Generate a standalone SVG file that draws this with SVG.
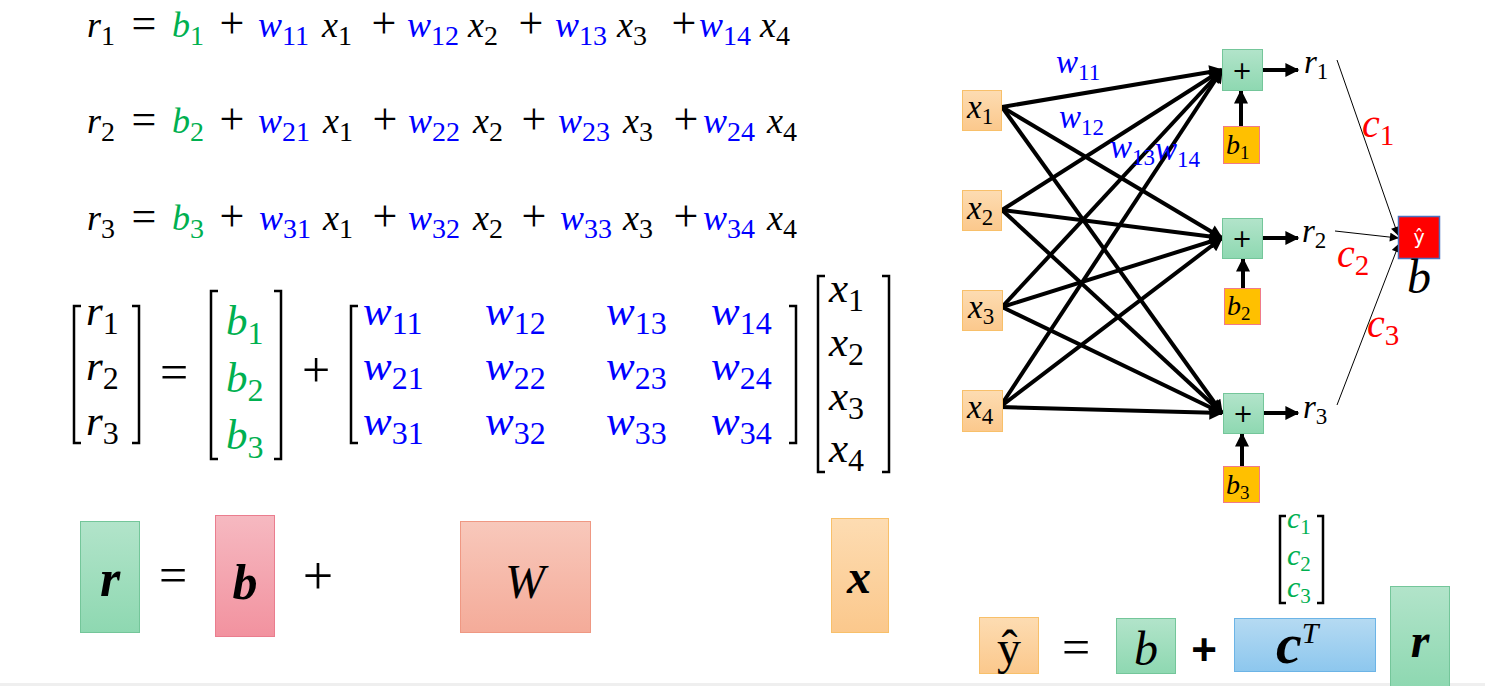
<svg xmlns="http://www.w3.org/2000/svg" width="1485" height="686" viewBox="0 0 1485 686">
<style>
text{font-family:"Liberation Serif","Times New Roman",serif}
.m{font-style:italic;font-size:36px}
.mm{font-style:italic;font-size:43px}
.o{font-size:44px;text-anchor:middle}
.oo{font-size:50px;text-anchor:middle}
.sb{font-style:normal;font-size:28px}
.sb2{font-style:normal;font-size:32px}
.sb3{font-style:normal;font-size:23px}
.k{fill:#000}
.g{fill:#00b050}
.u{fill:#0000ff}
.rd{fill:#ff0000}
.nl{font-style:italic;font-size:33px}
.wl{font-style:italic;font-size:33px;fill:#0000ff}
.edge{stroke:#000;stroke-width:4;fill:none}
.thin{stroke:#000;stroke-width:1;fill:none}
.brk{stroke:#000;stroke-width:2.5;fill:none}
.plus{font-family:"DejaVu Sans",sans-serif;font-size:24px;text-anchor:middle}
</style>
<defs>
<linearGradient id="gG" x1="0" y1="0" x2="0" y2="1"><stop offset="0" stop-color="#b2e4ca"/><stop offset="1" stop-color="#8ed8b1"/></linearGradient>
<linearGradient id="gP" x1="0" y1="0" x2="0" y2="1"><stop offset="0" stop-color="#f6b9c1"/><stop offset="1" stop-color="#f2929f"/></linearGradient>
<linearGradient id="gS" x1="0" y1="0" x2="0" y2="1"><stop offset="0" stop-color="#f8c8bb"/><stop offset="1" stop-color="#f4ab99"/></linearGradient>
<linearGradient id="gO" x1="0" y1="0" x2="0" y2="1"><stop offset="0" stop-color="#fddcb2"/><stop offset="1" stop-color="#fbc88c"/></linearGradient>
<linearGradient id="gB" x1="0" y1="0" x2="0" y2="1"><stop offset="0" stop-color="#b5daf2"/><stop offset="1" stop-color="#8dc7ee"/></linearGradient>
<marker id="ah" viewBox="0 0 10 10" refX="9" refY="5" markerWidth="16" markerHeight="14" markerUnits="userSpaceOnUse" orient="auto"><path d="M0,0 L10,5 L0,10 z" fill="#000"/></marker>
<marker id="ahs" viewBox="0 0 10 10" refX="9" refY="5" markerWidth="10" markerHeight="9" markerUnits="userSpaceOnUse" orient="auto"><path d="M0,0 L10,5 L0,10 z" fill="#000"/></marker>
</defs>
<rect x="0" y="0" width="1485" height="686" fill="#fff"/>
<rect x="0" y="683" width="1485" height="3" fill="#efefef"/>

<!-- scalar equations -->
<g id="eq1">
<text class="m k" x="87" y="37">r<tspan class="sb" dy="8">1</tspan></text>
<text class="o k" x="144" y="38">=</text>
<text class="m g" x="172" y="37">b<tspan class="sb" dy="8">1</tspan></text>
<text class="o k" x="232" y="38">+</text>
<text class="m u" x="258" y="37">w<tspan class="sb" dy="8">11</tspan></text>
<text class="m k" x="322" y="37">x<tspan class="sb" dy="8">1</tspan></text>
<text class="o k" x="384" y="38">+</text>
<text class="m u" x="407" y="37">w<tspan class="sb" dy="8">12</tspan></text>
<text class="m k" x="468" y="37">x<tspan class="sb" dy="8">2</tspan></text>
<text class="o k" x="531" y="38">+</text>
<text class="m u" x="555" y="37">w<tspan class="sb" dy="8">13</tspan></text>
<text class="m k" x="617" y="37">x<tspan class="sb" dy="8">3</tspan></text>
<text class="o k" x="684" y="38">+</text>
<text class="m u" x="699" y="37">w<tspan class="sb" dy="8">14</tspan></text>
<text class="m k" x="760" y="37">x<tspan class="sb" dy="8">4</tspan></text>
</g>
<g id="eq2">
<text class="m k" x="87" y="133">r<tspan class="sb" dy="8">2</tspan></text>
<text class="o k" x="144" y="134">=</text>
<text class="m g" x="172" y="133">b<tspan class="sb" dy="8">2</tspan></text>
<text class="o k" x="232" y="134">+</text>
<text class="m u" x="258" y="133">w<tspan class="sb" dy="8">21</tspan></text>
<text class="m k" x="323" y="133">x<tspan class="sb" dy="8">1</tspan></text>
<text class="o k" x="385" y="134">+</text>
<text class="m u" x="408" y="133">w<tspan class="sb" dy="8">22</tspan></text>
<text class="m k" x="473" y="133">x<tspan class="sb" dy="8">2</tspan></text>
<text class="o k" x="534" y="134">+</text>
<text class="m u" x="558" y="133">w<tspan class="sb" dy="8">23</tspan></text>
<text class="m k" x="623" y="133">x<tspan class="sb" dy="8">3</tspan></text>
<text class="o k" x="686" y="134">+</text>
<text class="m u" x="703" y="133">w<tspan class="sb" dy="8">24</tspan></text>
<text class="m k" x="767" y="133">x<tspan class="sb" dy="8">4</tspan></text>
</g>
<g id="eq3">
<text class="m k" x="87" y="230">r<tspan class="sb" dy="8">3</tspan></text>
<text class="o k" x="144" y="231">=</text>
<text class="m g" x="172" y="230">b<tspan class="sb" dy="8">3</tspan></text>
<text class="o k" x="232" y="231">+</text>
<text class="m u" x="259" y="230">w<tspan class="sb" dy="8">31</tspan></text>
<text class="m k" x="323" y="230">x<tspan class="sb" dy="8">1</tspan></text>
<text class="o k" x="385" y="231">+</text>
<text class="m u" x="408" y="230">w<tspan class="sb" dy="8">32</tspan></text>
<text class="m k" x="473" y="230">x<tspan class="sb" dy="8">2</tspan></text>
<text class="o k" x="534" y="231">+</text>
<text class="m u" x="560" y="230">w<tspan class="sb" dy="8">33</tspan></text>
<text class="m k" x="623" y="230">x<tspan class="sb" dy="8">3</tspan></text>
<text class="o k" x="686" y="231">+</text>
<text class="m u" x="703" y="230">w<tspan class="sb" dy="8">34</tspan></text>
<text class="m k" x="767" y="230">x<tspan class="sb" dy="8">4</tspan></text>
</g>

<!-- matrix equation -->
<g id="matrix">
<path class="brk" d="M81,306 H74 V443 H81 M132,306 H139 V443 H132"/>
<text class="mm k" x="86" y="325">r<tspan class="sb2" dy="9">1</tspan></text>
<text class="mm k" x="86" y="380">r<tspan class="sb2" dy="9">2</tspan></text>
<text class="mm k" x="86" y="435">r<tspan class="sb2" dy="9">3</tspan></text>
<text class="oo k" x="174" y="389">=</text>
<path class="brk" d="M218,291 H211 V459 H218 M274,291 H281 V459 H274"/>
<text class="mm g" x="226" y="335">b<tspan class="sb2" dy="9">1</tspan></text>
<text class="mm g" x="226" y="392">b<tspan class="sb2" dy="9">2</tspan></text>
<text class="mm g" x="226" y="449">b<tspan class="sb2" dy="9">3</tspan></text>
<text class="oo k" x="316" y="387">+</text>
<path class="brk" d="M358,306 H351 V443 H358 M789,306 H796 V443 H789"/>
<text class="mm u" x="363" y="325">w<tspan class="sb2" dy="9">11</tspan></text>
<text class="mm u" x="485" y="325">w<tspan class="sb2" dy="9">12</tspan></text>
<text class="mm u" x="606" y="325">w<tspan class="sb2" dy="9">13</tspan></text>
<text class="mm u" x="711" y="325">w<tspan class="sb2" dy="9">14</tspan></text>
<text class="mm u" x="363" y="380">w<tspan class="sb2" dy="9">21</tspan></text>
<text class="mm u" x="485" y="380">w<tspan class="sb2" dy="9">22</tspan></text>
<text class="mm u" x="606" y="380">w<tspan class="sb2" dy="9">23</tspan></text>
<text class="mm u" x="711" y="380">w<tspan class="sb2" dy="9">24</tspan></text>
<text class="mm u" x="363" y="435">w<tspan class="sb2" dy="9">31</tspan></text>
<text class="mm u" x="485" y="435">w<tspan class="sb2" dy="9">32</tspan></text>
<text class="mm u" x="606" y="435">w<tspan class="sb2" dy="9">33</tspan></text>
<text class="mm u" x="711" y="435">w<tspan class="sb2" dy="9">34</tspan></text>
<path class="brk" d="M825,276 H818 V472 H825 M882,276 H889 V472 H882"/>
<text class="mm k" x="829" y="302">x<tspan class="sb2" dy="9">1</tspan></text>
<text class="mm k" x="829" y="356">x<tspan class="sb2" dy="9">2</tspan></text>
<text class="mm k" x="829" y="410">x<tspan class="sb2" dy="9">3</tspan></text>
<text class="mm k" x="829" y="462">x<tspan class="sb2" dy="9">4</tspan></text>
</g>

<!-- vector boxes -->
<g id="box-r"><rect x="80.5" y="521.5" width="59" height="111" fill="url(#gG)" stroke="#74c69a"/><text x="110" y="596" text-anchor="middle" style="font-style:italic;font-weight:bold;font-size:52px">r</text></g>
<text class="oo k" x="173" y="592">=</text>
<g id="box-b"><rect x="215.5" y="515.5" width="59" height="121" fill="url(#gP)" stroke="#ea7d8e"/><text x="245" y="599" text-anchor="middle" style="font-style:italic;font-weight:bold;font-size:50px">b</text></g>
<text class="k" x="318" y="594" text-anchor="middle" style="font-size:54px">+</text>
<g id="box-W"><rect x="460.5" y="521.5" width="130" height="111" fill="url(#gS)" stroke="#ef9883"/><text x="525" y="598" text-anchor="middle" style="font-style:italic;font-size:48px">W</text></g>
<g id="box-x"><rect x="831.5" y="518.5" width="57" height="114" fill="url(#gO)" stroke="#f8c06a"/><text x="859" y="593" text-anchor="middle" style="font-style:italic;font-weight:bold;font-size:48px">x</text></g>

<!-- network connectors -->
<g id="connectors">
<line class="edge" x1="1002" y1="107" x2="1222" y2="70" marker-end="url(#ah)"/>
<line class="edge" x1="1002" y1="107" x2="1222" y2="238" marker-end="url(#ah)"/>
<line class="edge" x1="1002" y1="107" x2="1222" y2="413" marker-end="url(#ah)"/>
<line class="edge" x1="1002" y1="210" x2="1222" y2="70" marker-end="url(#ah)"/>
<line class="edge" x1="1002" y1="210" x2="1222" y2="238" marker-end="url(#ah)"/>
<line class="edge" x1="1002" y1="210" x2="1222" y2="413" marker-end="url(#ah)"/>
<line class="edge" x1="1002" y1="307" x2="1222" y2="70" marker-end="url(#ah)"/>
<line class="edge" x1="1002" y1="307" x2="1222" y2="238" marker-end="url(#ah)"/>
<line class="edge" x1="1002" y1="307" x2="1222" y2="413" marker-end="url(#ah)"/>
<line class="edge" x1="1000" y1="407" x2="1222" y2="70" marker-end="url(#ah)"/>
<line class="edge" x1="1000" y1="407" x2="1222" y2="238" marker-end="url(#ah)"/>
<line class="edge" x1="1000" y1="407" x2="1222" y2="413" marker-end="url(#ah)"/>
<line class="edge" x1="1263" y1="70" x2="1298" y2="70" marker-end="url(#ah)"/>
<line class="edge" x1="1263" y1="238" x2="1298" y2="238" marker-end="url(#ah)"/>
<line class="edge" x1="1264" y1="413" x2="1298" y2="413" marker-end="url(#ah)"/>
<line class="edge" x1="1241" y1="126" x2="1241" y2="91" marker-end="url(#ah)"/>
<line class="edge" x1="1243" y1="288" x2="1243" y2="259" marker-end="url(#ah)"/>
<line class="edge" x1="1242" y1="466" x2="1242" y2="434" marker-end="url(#ah)"/>
<line class="thin" x1="1337" y1="60" x2="1398" y2="235" marker-end="url(#ahs)"/>
<line class="thin" x1="1335" y1="231" x2="1398" y2="238" marker-end="url(#ahs)"/>
<line class="thin" x1="1337" y1="405" x2="1399" y2="244" marker-end="url(#ahs)"/>
</g>

<!-- weight labels -->
<text class="wl" x="1056" y="73">w<tspan class="sb3" dy="7">11</tspan></text>
<text class="wl" x="1059" y="128">w<tspan class="sb3" dy="7">12</tspan></text>
<text class="wl" x="1110" y="158">w<tspan class="sb3" dy="7">13</tspan></text>
<text class="wl" x="1155" y="160">w<tspan class="sb3" dy="7">14</tspan></text>

<!-- input nodes -->
<g id="x1"><rect x="962.5" y="90.5" width="39" height="40" fill="url(#gO)" stroke="#f8c06a"/><text class="nl" x="967" y="118">x<tspan class="sb3" dy="6">1</tspan></text></g>
<g id="x2"><rect x="962.5" y="190.5" width="39" height="40" fill="url(#gO)" stroke="#f8c06a"/><text class="nl" x="967" y="219">x<tspan class="sb3" dy="6">2</tspan></text></g>
<g id="x3"><rect x="962.5" y="290.5" width="40" height="40" fill="url(#gO)" stroke="#f8c06a"/><text class="nl" x="968" y="318">x<tspan class="sb3" dy="6">3</tspan></text></g>
<g id="x4"><rect x="962.5" y="390.5" width="40" height="41" fill="url(#gO)" stroke="#f8c06a"/><text class="nl" x="967" y="418">x<tspan class="sb3" dy="6">4</tspan></text></g>

<!-- sum nodes -->
<g id="sum1"><rect x="1222.5" y="49.5" width="40" height="41" fill="url(#gG)" stroke="#74c69a"/><text class="plus" x="1242" y="79">+</text></g>
<g id="sum2"><rect x="1222.5" y="218.5" width="40" height="40" fill="url(#gG)" stroke="#74c69a"/><text class="plus" x="1242" y="247">+</text></g>
<g id="sum3"><rect x="1223.5" y="393.5" width="40" height="40" fill="url(#gG)" stroke="#74c69a"/><text class="plus" x="1243" y="422">+</text></g>

<!-- bias nodes -->
<g id="b1"><rect x="1223.5" y="126.5" width="36" height="37" fill="#ffc000" stroke="#f07a8a"/><text x="1226" y="154" style="font-style:italic;font-size:28px">b<tspan style="font-style:normal;font-size:19px" dy="5">1</tspan></text></g>
<g id="b2"><rect x="1224.5" y="288.5" width="36" height="36" fill="#ffc000" stroke="#f07a8a"/><text x="1227" y="315" style="font-style:italic;font-size:28px">b<tspan style="font-style:normal;font-size:19px" dy="5">2</tspan></text></g>
<g id="b3"><rect x="1223.5" y="466.5" width="36" height="36" fill="#ffc000" stroke="#f07a8a"/><text x="1226" y="494" style="font-style:italic;font-size:28px">b<tspan style="font-style:normal;font-size:19px" dy="5">3</tspan></text></g>

<!-- r labels -->
<text class="nl" x="1304" y="73">r<tspan class="sb3" dy="6">1</tspan></text>
<text class="nl" x="1302" y="242">r<tspan class="sb3" dy="6">2</tspan></text>
<text class="nl" x="1303" y="418">r<tspan class="sb3" dy="6">3</tspan></text>

<!-- c labels -->
<text class="rd" style="font-style:italic;font-size:40px" x="1362" y="137">c<tspan style="font-style:normal;font-size:29px" dy="8">1</tspan></text>
<text class="rd" style="font-style:italic;font-size:40px" x="1337" y="267">c<tspan style="font-style:normal;font-size:29px" dy="8">2</tspan></text>
<text class="rd" style="font-style:italic;font-size:40px" x="1367" y="337">c<tspan style="font-style:normal;font-size:29px" dy="8">3</tspan></text>

<!-- output node -->
<g id="yhat"><rect x="1398.5" y="216.5" width="41" height="42" fill="#ff0000" stroke="#4a72c0" stroke-width="1.5"/><text x="1419" y="244" text-anchor="middle" style="font-family:'DejaVu Sans',sans-serif;font-size:19px;fill:#fff">ŷ</text></g>
<text x="1419" y="293" text-anchor="middle" style="font-style:italic;font-size:48px">b</text>

<!-- c vector -->
<g id="cvec">
<path class="brk" d="M1286,516 H1280 V603 H1286 M1317,516 H1323 V603 H1317"/>
<text class="g" style="font-style:italic;font-size:30px" x="1287" y="528">c<tspan style="font-style:normal;font-size:21px" dy="6">1</tspan></text>
<text class="g" style="font-style:italic;font-size:30px" x="1287" y="565">c<tspan style="font-style:normal;font-size:21px" dy="6">2</tspan></text>
<text class="g" style="font-style:italic;font-size:30px" x="1287" y="597">c<tspan style="font-style:normal;font-size:21px" dy="6">3</tspan></text>
</g>

<!-- bottom equation -->
<g id="box-yhat"><rect x="979.5" y="617.5" width="59" height="56" fill="url(#gO)" stroke="#f8c06a"/><text x="1009" y="664" text-anchor="middle" style="font-size:48px">ŷ</text></g>
<text class="k" x="1076" y="664" text-anchor="middle" style="font-size:50px">=</text>
<g id="box-b2"><rect x="1116.5" y="618.5" width="59" height="55" fill="url(#gG)" stroke="#74c69a"/><text x="1146" y="665" text-anchor="middle" style="font-style:italic;font-size:48px">b</text></g>
<text x="1204" y="665" text-anchor="middle" style="font-family:'Liberation Sans',sans-serif;font-weight:bold;font-size:44px">+</text>
<g id="box-cT"><rect x="1234.5" y="618.5" width="141" height="53" fill="url(#gB)" stroke="#6cb4e6"/><text x="1276" y="663" style="font-style:italic;font-weight:bold;font-size:58px">c<tspan style="font-weight:normal;font-size:30px" dy="-20">T</tspan></text></g>
<g id="box-r2"><rect x="1390.5" y="586.5" width="59" height="100" fill="url(#gG)" stroke="#74c69a"/><text x="1420" y="657" text-anchor="middle" style="font-style:italic;font-weight:bold;font-size:48px">r</text></g>
</svg>
